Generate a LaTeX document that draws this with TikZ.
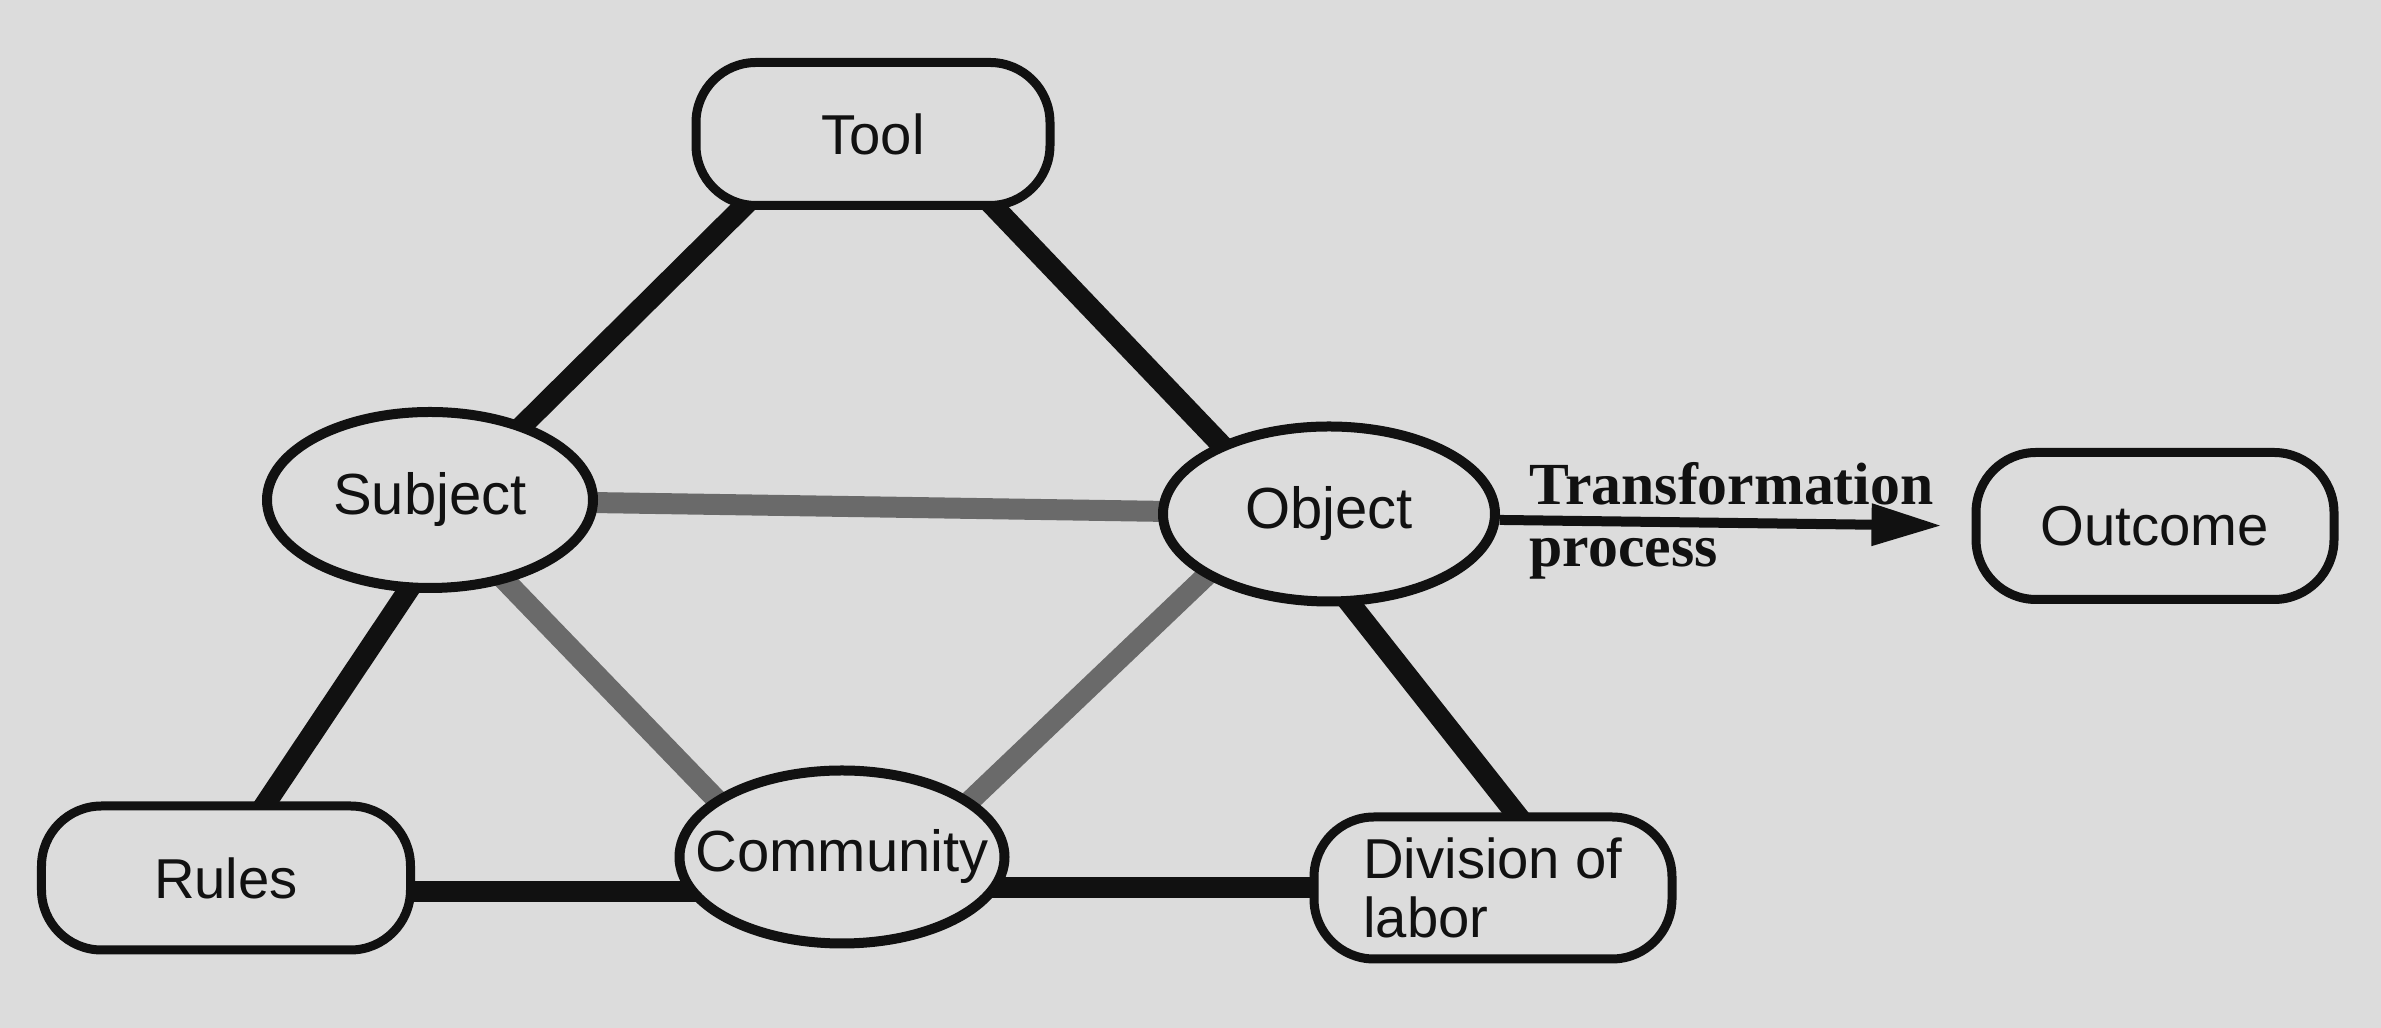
\documentclass[tikz,border=0pt]{standalone}
\usepackage{fontspec}
\setmainfont{Liberation Sans}
\newfontfamily\labelserif{Liberation Serif}
\usetikzlibrary{arrows.meta,calc,shapes.geometric,backgrounds}
\definecolor{paper}{HTML}{DCDCDC}
\definecolor{ink}{HTML}{111111}
\definecolor{hatch}{HTML}{6A6A6A}

\begin{document}
\begin{tikzpicture}[
    box/.style={draw=ink, text=ink, line width=0.9mm, fill=paper, rounded corners=6mm, align=center, font=\fontsize{16}{17}\selectfont},
    oval/.style={ellipse, draw=ink, text=ink, line width=1mm, fill=paper, inner xsep=-6mm, inner ysep=0pt, align=center, font=\fontsize{16.5}{17}\selectfont},
    heavy/.style={line width=2.1mm, draw=ink, shorten <=-2.5mm, shorten >=-2.5mm},
    shaded/.style={line width=2.1mm, draw=hatch, shorten <=-2.5mm, shorten >=-2.5mm},
    arr/.style={-{Triangle[length=7mm,width=4mm]}, line width=1mm, draw=ink, shorten >=3mm},
    lbl/.style={text=ink, inner sep=0pt, font=\labelserif\bfseries\fontsize{17}{17}\selectfont}
]
    \useasboundingbox (0,0) rectangle (23.81,10.28);

    % the seven corners of the activity system
    \node[box, minimum width=3.54cm, minimum height=1.43cm] (tool) at (8.73,8.94) {Tool};
    \node[oval, minimum width=3.26cm, minimum height=1.76cm] (subj) at (4.30,5.28) {Subject};
    \node[oval, minimum width=3.32cm, minimum height=1.75cm] (obj) at (13.29,5.14) {Object};
    \node[box, minimum width=3.58cm, minimum height=1.47cm] (outc) at (21.55,5.02) {Outcome};
    \node[box, minimum width=3.69cm, minimum height=1.44cm] (rules) at (2.26,1.50) {Rules};
    \node[oval, minimum width=3.25cm, minimum height=1.73cm] (comm) at (8.42,1.71) {Community};
    \node[box, minimum width=3.58cm, minimum height=1.42cm, align=left] (div) at (14.93,1.40) {Division of\\labor};

    \node[lbl, anchor=base west] (tlab) at (15.29,5.23) {Transformation};
    \node[lbl, anchor=base west] (plab) at ($(tlab.base west)+(0,-0.62)$) {process};

    \begin{pgfonlayer}{background}
        \fill[paper] (0,0) rectangle (23.81,10.28);
        % outer triangle
        \draw[heavy] (subj.39) -- ($(tool.south)+(-1.33,0)$);
        \draw[heavy] (obj.147) -- ($(tool.south)+(1.24,0)$);
        \draw[heavy] (subj.-104) -- ($(rules.north)+(0.41,0)$);
        \draw[heavy] (obj.-76) -- ($(div.north)+(0.22,0)$);
        \draw[heavy] (rules.-4) -- (rules.-4 -| comm.west);
        \draw[heavy] (comm.east |- div.west) -- (div.west);
        % inner triangle
        \draw[shaded] (subj) -- (obj);
        \draw[shaded] (subj.-47) -- (comm.155);
        \draw[shaded] (obj.-153) -- (comm.24);
    \end{pgfonlayer}

    \draw[arr] (obj.-2) -- (outc.west);
\end{tikzpicture}
\end{document}
